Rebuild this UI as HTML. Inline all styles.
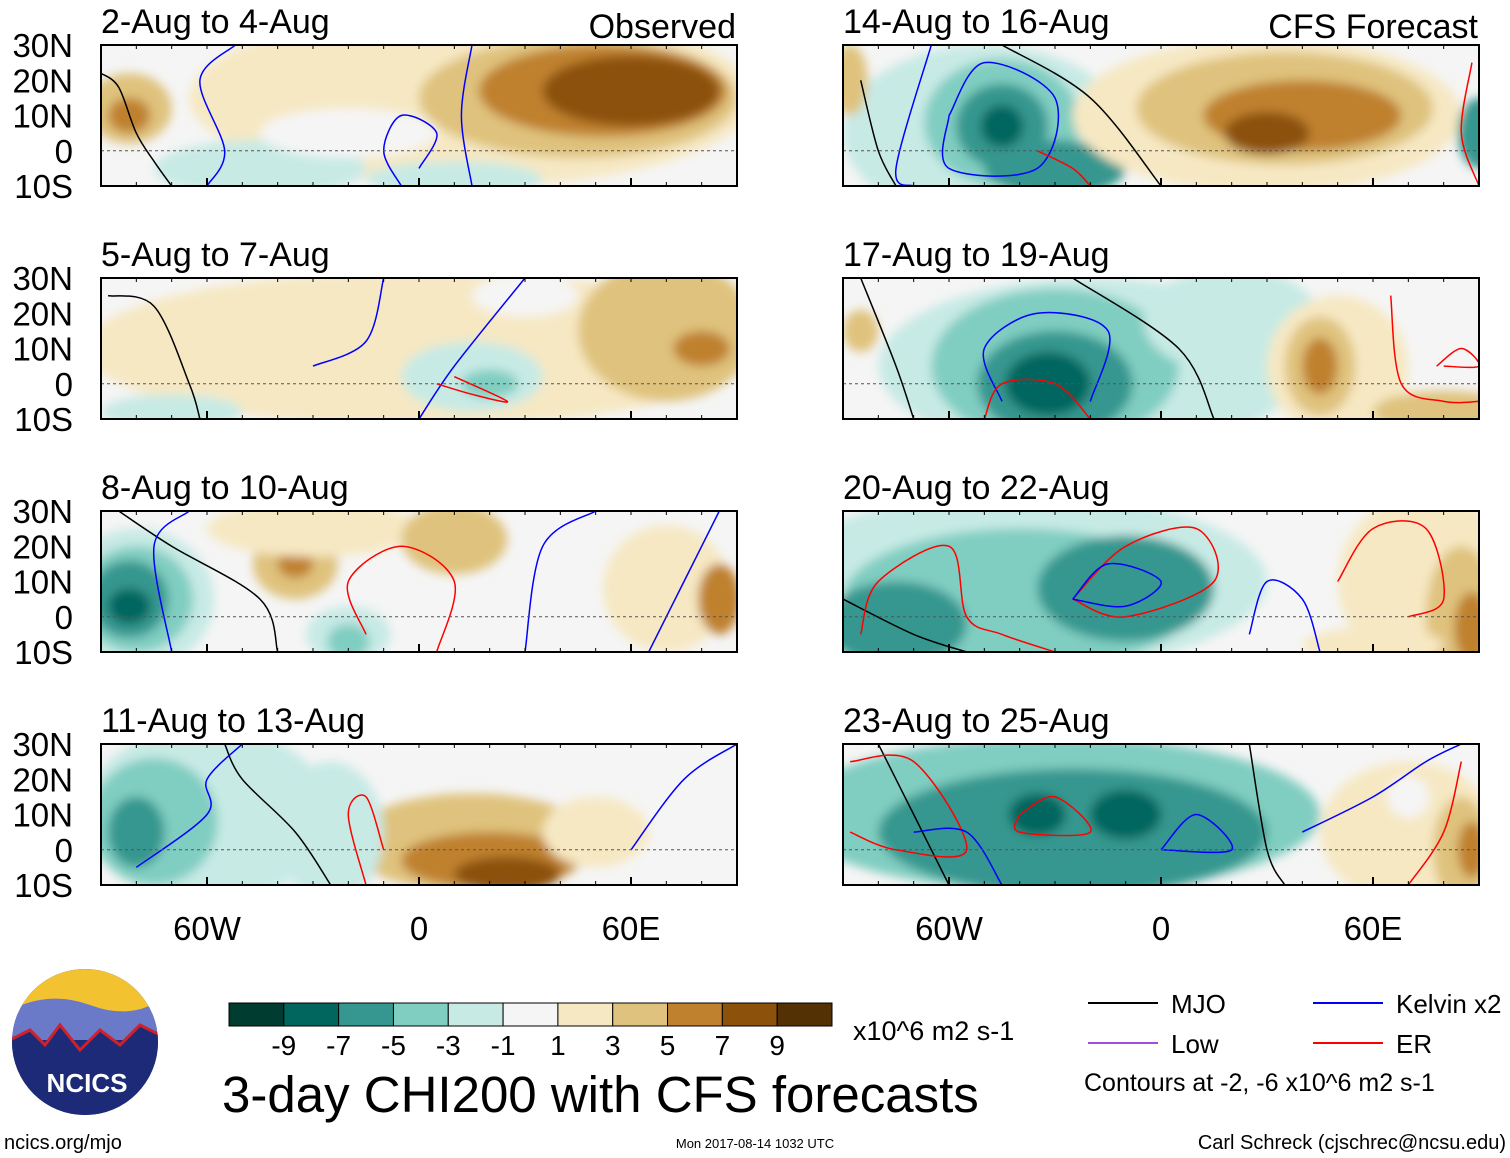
<!DOCTYPE html>
<html><head><meta charset="utf-8">
<style>
body{margin:0;background:#fff;width:1510px;height:1158px;overflow:hidden;font-family:"Liberation Sans",sans-serif}
svg{position:absolute;left:0;top:0}
</style></head>
<body>
<svg id="chart" width="1510" height="1158"></svg>
<script>
const colors=["#003c30","#01665e","#35978f","#80cdc1","#c7eae5","#f5f5f5","#f6e8c3","#dfc27d","#bf812d","#8c510a","#543005"];
const cbLabels=["-9","-7","-5","-3","-1","1","3","5","7","9"];
const titles=["2-Aug to 4-Aug","5-Aug to 7-Aug","8-Aug to 10-Aug","11-Aug to 13-Aug","14-Aug to 16-Aug","17-Aug to 19-Aug","20-Aug to 22-Aug","23-Aug to 25-Aug"];
const latTicks=["30N","20N","10N","0","10S"];
const lonTicks=[-60,0,60];
const lonLabels=["60W","0","60E"];
// blobs: [lon, lat, rxDeg, ryDeg, colorIndex]
const blobs=[
 [[15,15,80,25,6],[-82,12,12,10,7],[-82,10,6,5,8],[45,15,45,17,7],[52,17,35,13,8],[60,17,25,10,9],[-45,-5,30,8,4],[10,-8,25,5,4],[-20,5,25,7,5]],
 [[0,10,95,22,6],[70,15,25,20,7],[80,10,8,5,8],[15,2,20,10,4],[20,0,8,4,3],[-70,-8,20,5,4],[30,25,15,6,5]],
 [[-80,5,22,20,4],[-80,5,16,15,3],[-82,5,11,11,2],[-82,3,6,5,1],[-35,15,12,10,7],[-35,15,5,4,8],[-30,25,30,8,6],[10,22,15,10,7],[-20,-5,12,8,4],[-20,-7,6,5,3],[70,8,18,18,6],[85,5,6,10,8]],
 [[-60,10,35,25,4],[-75,8,18,18,3],[-80,5,8,10,2],[15,2,35,14,7],[20,-3,25,8,8],[25,-7,15,5,9],[-25,5,15,20,4],[50,5,15,10,6]],
 [[-50,5,40,25,4],[-45,8,22,18,3],[-45,7,13,12,2],[-45,7,6,6,1],[-30,-5,20,8,2],[30,10,55,22,6],[35,12,42,16,7],[40,10,28,10,8],[30,5,12,6,9],[-88,20,5,10,7],[90,5,6,10,2]],
 [[-20,5,60,25,4],[-30,5,35,22,3],[-30,0,22,15,2],[-32,0,12,9,1],[20,18,25,15,4],[50,5,20,20,6],[45,5,10,14,7],[45,5,5,8,8],[80,-8,20,6,7],[-85,15,5,6,7]],
 [[-40,10,70,25,4],[-40,5,50,20,3],[-75,-2,20,12,2],[-10,8,25,15,2],[75,10,25,25,6],[85,0,10,20,7],[88,-3,5,10,8],[60,-8,20,5,6]],
 [[-30,10,75,22,3],[-25,5,55,18,2],[-35,10,8,6,1],[-10,10,10,7,1],[70,5,25,20,6],[85,0,8,15,7],[88,0,4,8,8],[70,15,6,6,5]]
];
// contour lines per panel: [color, points as [lon,lat]...]
const lines=[
 [["#000",[[-90,22],[-85,18],[-80,5],[-75,-3],[-70,-10]]],["#00f",[[-60,-10],[-55,0],[-62,20],[-52,30]]],["#00f",[[-5,-10],[-10,0],[-5,10],[5,5],[0,-5]]],["#00f",[[15,-10],[12,10],[15,30]]]],
 [["#000",[[-88,25],[-75,22],[-65,0],[-62,-10]]],["#00f",[[-30,5],[-15,12],[-10,30]]],["#00f",[[0,-10],[10,5],[30,30]]],["#f00",[[5,0],[15,-3],[25,-5],[10,2]]]],
 [["#000",[[-85,30],[-70,20],[-45,5],[-40,-10]]],["#f00",[[-15,-5],[-20,10],[-5,20],[10,10],[5,-10]]],["#00f",[[-70,-10],[-75,20],[-65,30]]],["#00f",[[30,-10],[35,20],[50,30]]],["#00f",[[65,-10],[75,10],[85,30]]]],
 [["#000",[[-55,30],[-50,20],[-35,5],[-25,-10]]],["#00f",[[-80,-5],[-60,10],[-60,20],[-50,30]]],["#f00",[[-15,-10],[-20,10],[-15,15],[-10,0]]],["#00f",[[60,0],[75,20],[90,30]]]],
 [["#000",[[-85,20],[-80,0],[-75,-10]]],["#000",[[-45,30],[-20,15],[0,-10]]],["#00f",[[-60,10],[-50,25],[-30,15],[-35,-5],[-60,-5],[-60,10]]],["#f00",[[-35,0],[-25,-5],[-20,-10]]],["#00f",[[-65,30],[-75,-5],[-70,-10]]],["#f00",[[88,25],[85,5],[90,-10]]]],
 [["#000",[[-85,30],[-75,5],[-70,-10]]],["#00f",[[-45,-5],[-50,10],[-35,20],[-15,15],[-20,-5]]],["#f00",[[-50,-10],[-45,0],[-30,0],[-20,-10]]],["#000",[[-25,30],[5,10],[15,-10]]],["#f00",[[65,25],[68,0],[80,-5],[90,-5]]],["#f00",[[78,5],[85,10],[90,5],[80,5]]]],
 [["#000",[[-90,5],[-70,-5],[-55,-10]]],["#f00",[[-85,-5],[-80,10],[-60,20],[-55,0],[-45,-5],[-30,-10]]],["#f00",[[-25,5],[-10,20],[10,25],[15,10],[-10,0],[-25,5]]],["#00f",[[-25,5],[-15,15],[0,10],[-10,3],[-25,5]]],["#f00",[[50,10],[60,25],[75,25],[80,5],[70,0]]],["#00f",[[25,-5],[30,10],[40,5],[45,-10]]]],
 [["#000",[[-80,30],[-70,10],[-60,-10]]],["#f00",[[-88,25],[-70,25],[-55,0],[-75,0],[-88,5]]],["#f00",[[-40,10],[-30,15],[-20,5],[-40,5],[-40,10]]],["#00f",[[-70,5],[-55,5],[-45,-10]]],["#00f",[[0,0],[10,10],[20,0],[0,0]]],["#000",[[25,30],[30,0],[35,-10]]],["#00f",[[40,5],[60,15],[75,25],[85,30]]],["#f00",[[70,-10],[80,5],[85,25]]]]
];
const NS="http://www.w3.org/2000/svg";
const svg=document.getElementById('chart');
function mk(tag,attrs,parent){const e=document.createElementNS(NS,tag);for(const k in attrs)e.setAttribute(k,attrs[k]);(parent||svg).appendChild(e);return e;}
function smooth(pts){
 let d='M'+pts[0][0].toFixed(1)+','+pts[0][1].toFixed(1);
 for(let i=0;i<pts.length-1;i++){
  const p0=pts[Math.max(0,i-1)],p1=pts[i],p2=pts[i+1],p3=pts[Math.min(pts.length-1,i+2)];
  const c1=[p1[0]+(p2[0]-p0[0])/6,p1[1]+(p2[1]-p0[1])/6],c2=[p2[0]-(p3[0]-p1[0])/6,p2[1]-(p3[1]-p1[1])/6];
  d+=' C'+c1.map(v=>v.toFixed(1)).join(',')+' '+c2.map(v=>v.toFixed(1)).join(',')+' '+p2[0].toFixed(1)+','+p2[1].toFixed(1);
 }
 return d;
}
const defs=mk('defs',{});
const f=mk('filter',{id:'blur',x:'-20%',y:'-20%',width:'140%',height:'140%'},defs);
mk('feGaussianBlur',{stdDeviation:'5'},f);
const panelX=[101,843],panelY=[45,278,511,744],PW=636,PH=141;
for(let p=0;p<8;p++){
 const col=p<4?0:1,row=p%4;
 const x0=panelX[col],y0=panelY[row];
 const xs=lon=>x0+(lon+90)/180*PW;
 const ys=lat=>y0+(30-lat)/40*PH;
 const g=mk('g',{});
 
 
 const cp=mk('clipPath',{id:'cp'+p},defs);
 mk('rect',{x:x0,y:y0,width:PW,height:PH},cp);
 mk('rect',{x:x0,y:y0,width:PW,height:PH,fill:colors[5]},g);
 const gg=mk('g',{'clip-path':'url(#cp'+p+')'},g);
 const gb=mk('g',{filter:'url(#blur)'},gg);
 blobs[p].forEach(b=>{
  const e=mk('ellipse',{cx:xs(b[0]),cy:ys(b[1]),rx:b[2]/180*PW,ry:b[3]/40*PH,fill:colors[b[4]]},gb);
  
  
 });
 lines[p].forEach(l=>{
  const d=smooth(l[1].map(pt=>[xs(pt[0]),ys(pt[1])]));
  const pa=mk('path',{d:d,fill:'none',stroke:l[0],'stroke-width':1.5},gg);
  
  
 });
 mk('line',{x1:x0,y1:ys(0),x2:x0+PW,y2:ys(0),stroke:'#555','stroke-dasharray':'3,3','stroke-width':1},gg);
 mk('rect',{x:x0,y:y0,width:PW,height:PH,fill:'none',stroke:'#000','stroke-width':2},g);
 for(let lon=-90;lon<=90;lon+=10){mk('line',{x1:xs(lon),y1:y0,x2:xs(lon),y2:y0+4,stroke:'#000'},g);mk('line',{x1:xs(lon),y1:y0+PH,x2:xs(lon),y2:y0+PH-4,stroke:'#000'},g);}
 lonTicks.forEach(lon=>{mk('line',{x1:xs(lon),y1:y0+PH,x2:xs(lon),y2:y0+PH-8,stroke:'#000','stroke-width':2},g);});
 const t=mk('text',{x:x0,y:y0-12,'font-size':34,fill:'#000'},g);t.textContent=titles[p];
 
 if(col===0){latTicks.forEach((l,i)=>{const tt=mk('text',{x:73,y:y0+i*PH/4+12,'font-size':33,'text-anchor':'end'},g);tt.textContent=l;});}
 if(row===3){lonTicks.forEach((lon,i)=>{const tt=mk('text',{x:xs(lon),y:940,'font-size':33,'text-anchor':'middle'},g);tt.textContent=lonLabels[i];});}
}
function txt(x,y,s,size,name,anchor){const t=mk('text',{x:x,y:y,'font-size':size,'text-anchor':anchor||'start'});t.textContent=s;return t;}
txt(736,38,"Observed",34,"observed-label","end");
txt(1478,38,"CFS Forecast",34,"forecast-label","end");
// colorbar
const cbw=(832-229)/11;
colors.forEach((c,i)=>{const r=mk('rect',{x:229+i*cbw,y:1003,width:cbw,height:23,fill:c,stroke:'#000','stroke-width':1});});
cbLabels.forEach((l,i)=>txt(229+(i+1)*cbw,1055,l,28,"colorbar-label","middle"));
txt(853,1040,"x10^6 m2 s-1",27,"colorbar-units");
txt(222,1112,"3-day CHI200 with CFS forecasts",51,"chart-title");
// legend
[["#000","MJO",1088,1003],["#00f","Kelvin x2",1313,1003],["#a04ee0","Low",1088,1043],["#f00","ER",1313,1043]].forEach(l=>{
 const ln=mk('line',{x1:l[2],y1:l[3],x2:l[2]+70,y2:l[3],stroke:l[0],'stroke-width':2});
 txt(l[2]+83,l[3]+10,l[1],26,"legend-entry");
});
txt(1084,1091,"Contours at -2, -6 x10^6 m2 s-1",25,"contour-note");
txt(4,1149,"ncics.org/mjo",20,"source-url");
txt(755,1148,"Mon 2017-08-14 1032 UTC",13,"timestamp","middle");
txt(1506,1149,"Carl Schreck (cjschrec@ncsu.edu)",20,"author","end");
// logo
const lg=mk('g',{});
const lcp=mk('clipPath',{id:'lcp'},defs);mk('circle',{cx:85,cy:1042,r:73},lcp);
const li=mk('g',{'clip-path':'url(#lcp)'},lg);
mk('rect',{x:10,y:968,width:150,height:150,fill:'#1c2a78'},li);
mk('rect',{x:10,y:968,width:150,height:45,fill:'#f2c230'},li);
mk('path',{d:'M10,1010 Q50,990 90,1005 T160,1000 L160,1040 L10,1040Z',fill:'#6b79c9'},li);
mk('path',{d:'M10,1040 L30,1030 L45,1045 L60,1025 L80,1050 L100,1030 L120,1045 L140,1025 L160,1035 L160,1118 L10,1118Z',fill:'#1c2a78',stroke:'#d0202a','stroke-width':3},li);
const lt=mk('text',{x:87,y:1092,'font-size':26,'font-weight':'bold',fill:'#fff','text-anchor':'middle'},lg);lt.textContent="NCICS";
</script>
</body></html>
